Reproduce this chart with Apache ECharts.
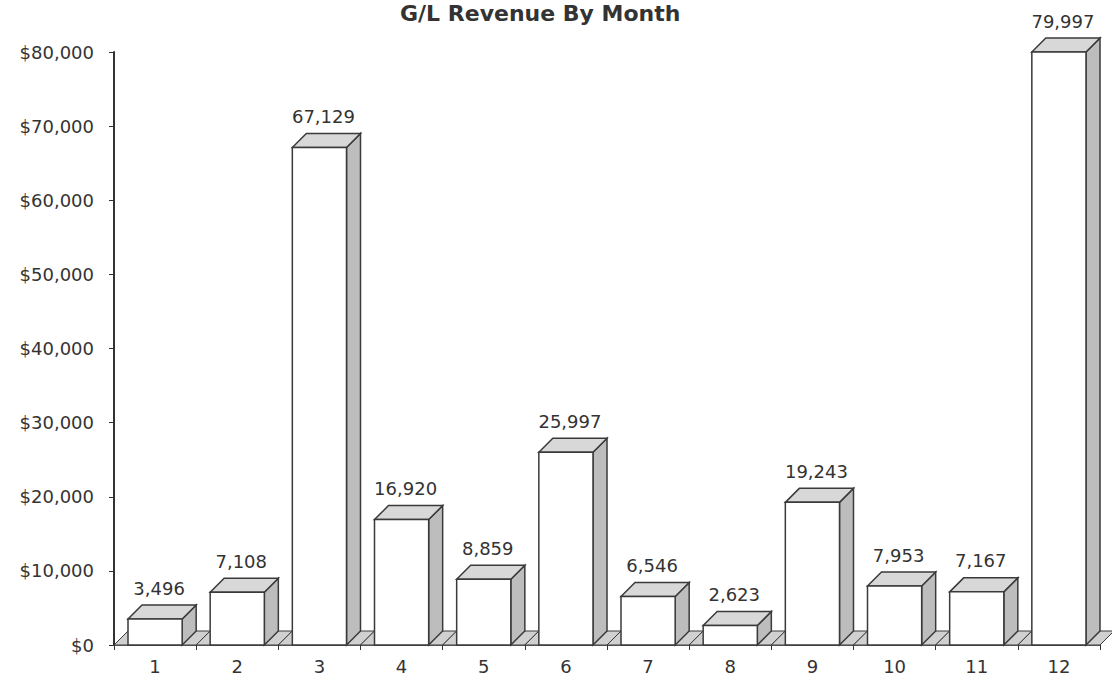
<!DOCTYPE html>
<html>
<head>
<meta charset="utf-8">
<script src="https://cdn.jsdelivr.net/npm/echarts@6/dist/echarts.min.js"></script>
<style>
html,body{margin:0;padding:0;background:#fff;}
#c{width:1112px;height:680px;}
</style>
</head>
<body>
<div id="c"></div>
<script>
const titleText = 'G/L Revenue By Month';
const months = ['1','2','3','4','5','6','7','8','9','10','11','12'];
const revenue = [3496, 7108, 67129, 16920, 8859, 25997, 6546, 2623, 19243, 7953, 7167, 79997];
const yMin = 0, yMax = 80000, yStep = 10000;

function fmt(n){ return String(Math.round(n)).replace(/\B(?=(\d{3})+(?!\d))/g, ','); }

const FONT = 'DejaVu Sans';
const chart = echarts.init(document.getElementById('c'), null, {renderer:'svg'});

function renderItem(params, api){
  const idx = api.value(0);
  const val = api.value(1);
  const top = api.coord([idx, val]);
  const base = api.coord([idx, 0]);
  const w = api.size([1, 0])[0];
  const d = 14;
  const bw = w - 2*d;
  const b = top[0] - w/2;
  const fx = b + d;
  const yb = base[1];
  const yt = top[1];
  const stroke = '#3a3a3a';
  return {
    type: 'group',
    children: [
      { type:'polygon', shape:{points:[[b,yb],[b+w,yb],[b+w+d,yb-d],[b+d,yb-d]]},
        style:{fill:'#d0d0d0', stroke:stroke, lineWidth:1} },
      { type:'polygon', shape:{points:[[fx+bw,yt],[fx+bw+d,yt-d],[fx+bw+d,yb-d],[fx+bw,yb]]},
        style:{fill:'#bdbdbd', stroke:stroke, lineWidth:1.5} },
      { type:'polygon', shape:{points:[[fx,yt],[fx+d,yt-d],[fx+bw+d,yt-d],[fx+bw,yt]]},
        style:{fill:'#d8d8d8', stroke:stroke, lineWidth:1.5} },
      { type:'rect', shape:{x:fx, y:yt, width:bw, height:yb-yt},
        style:{fill:'#ffffff', stroke:stroke, lineWidth:1.5} },
      { type:'text', x: fx + bw/2 + 4, y: yt - d - 8,
        style:{text: fmt(val), fontFamily:FONT, fontSize:18, fill:'#333',
               align:'center', verticalAlign:'bottom'} }
    ]
  };
}

chart.setOption({
  animation:false,
  backgroundColor:'#ffffff',
  title:{ text:titleText, left:400, top:2, padding:0,
    textStyle:{fontFamily:FONT, fontSize:22, fontWeight:'bold', color:'#333'} },
  grid:{ left:114, right:12, top:52, bottom:35 },
  xAxis:{ type:'category', data:months, boundaryGap:true,
    axisLine:{lineStyle:{color:'#333', width:1.5}},
    axisTick:{show:true, alignWithLabel:false, length:5, lineStyle:{color:'#333'}},
    axisLabel:{fontFamily:FONT, fontSize:18, color:'#333', margin:12},
    splitLine:{show:false} },
  yAxis:{ type:'value', min:yMin, max:yMax, interval:yStep,
    axisLine:{show:true, lineStyle:{color:'#333', width:2}},
    axisTick:{show:true, length:5, lineStyle:{color:'#333'}},
    axisLabel:{fontFamily:FONT, fontSize:18, color:'#333', margin:20,
      formatter:v => '$' + fmt(v)},
    splitLine:{show:false} },
  series:[{ type:'custom', renderItem:renderItem, clip:false,
    data: revenue.map((v,i)=>[i, v]) }]
});
</script>
</body>
</html>
